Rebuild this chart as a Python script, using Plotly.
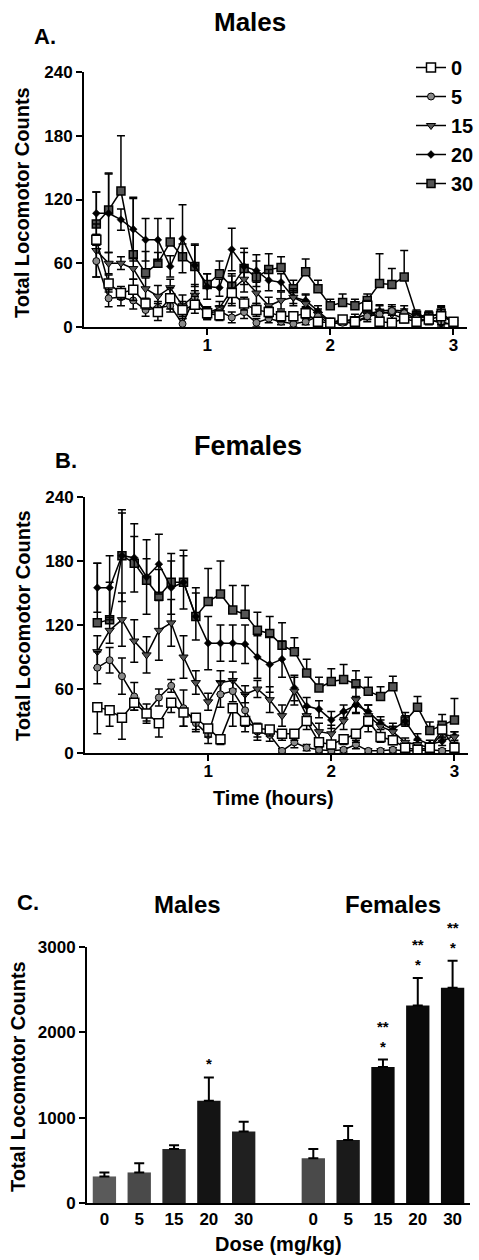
import plotly.graph_objects as go

# ---------------- data ----------------
time_h = [0.1, 0.2, 0.3, 0.4, 0.5, 0.6, 0.7, 0.8, 0.9, 1.0,
          1.1, 1.2, 1.3, 1.4, 1.5, 1.6, 1.7, 1.8, 1.9, 2.0,
          2.1, 2.2, 2.3, 2.4, 2.5, 2.6, 2.7, 2.8, 2.9, 3.0]
dose_names = ["0", "5", "15", "20", "30"]

# Panel A (males) means / SEM
male_0 = [82, 41, 32, 35, 22, 14, 27, 16, 21, 13, 11, 32, 22, 16, 14, 10, 10, 13, 5, 4, 7, 5, 20, 5, 4, 8, 5, 7, 10, 5]
male_5 = [62, 27, 28, 25, 16, 18, 20, 3, 28, 13, 15, 9, 14, 4, 8, 5, 3, 5, 10, 3, 4, 5, 10, 12, 15, 13, 8, 6, 5, 2]
male_15 = [72, 60, 60, 55, 36, 29, 37, 20, 30, 13, 18, 35, 45, 32, 20, 25, 28, 22, 12, 5, 5, 8, 12, 15, 12, 8, 10, 10, 12, 4]
male_20 = [107, 107, 101, 92, 82, 82, 57, 83, 58, 38, 37, 73, 57, 53, 44, 42, 28, 25, 15, 5, 5, 3, 10, 15, 16, 15, 10, 8, 3, 3]
male_30 = [97, 110, 128, 68, 51, 60, 80, 66, 57, 40, 50, 38, 55, 47, 54, 56, 36, 52, 36, 20, 23, 20, 25, 41, 40, 47, 11, 10, 13, 5]
male_0_err = [5, 8, 6, 10, 5, 8, 10, 8, 8, 6, 5, 10, 6, 6, 5, 5, 4, 5, 3, 2, 2, 3, 5, 3, 3, 3, 3, 5, 8, 2]
male_5_err = [15, 8, 8, 8, 6, 6, 6, 5, 6, 5, 5, 5, 6, 4, 4, 3, 3, 3, 4, 2, 2, 2, 3, 4, 4, 4, 3, 3, 3, 2]
male_15_err = [25, 10, 6, 10, 10, 10, 8, 10, 10, 6, 6, 15, 12, 10, 8, 8, 8, 8, 5, 3, 3, 4, 5, 6, 5, 4, 4, 4, 8, 2]
male_20_err = [20, 37, 10, 30, 20, 20, 10, 32, 20, 12, 8, 20, 17, 15, 10, 8, 6, 6, 5, 3, 3, 3, 5, 5, 5, 5, 3, 3, 3, 2]
male_30_err = [30, 35, 52, 53, 20, 10, 22, 12, 20, 10, 12, 10, 15, 15, 15, 10, 8, 12, 8, 6, 8, 6, 6, 28, 15, 25, 5, 5, 6, 3]

# Panel B (females) means / SEM
female_0 = [43, 40, 33, 47, 37, 28, 47, 38, 33, 23, 13, 42, 30, 23, 22, 18, 18, 30, 10, 8, 13, 18, 30, 15, 12, 5, 3, 5, 22, 5]
female_5 = [80, 87, 72, 53, 38, 52, 63, 42, 28, 17, 55, 58, 40, 20, 17, 2, 10, 5, 3, 2, 3, 8, 2, 2, 3, 2, 2, 3, 2, 2]
female_15 = [95, 115, 125, 105, 92, 115, 122, 90, 66, 48, 66, 68, 55, 60, 50, 35, 58, 35, 20, 18, 30, 50, 35, 25, 20, 10, 8, 5, 18, 15]
female_20 = [155, 155, 185, 183, 165, 177, 155, 160, 128, 103, 103, 103, 102, 90, 83, 88, 61, 44, 41, 31, 39, 45, 39, 28, 22, 30, 13, 8, 11, 16]
female_30 = [122, 125, 185, 178, 162, 147, 160, 160, 128, 142, 149, 134, 130, 115, 112, 101, 95, 75, 61, 67, 69, 65, 58, 53, 62, 30, 43, 21, 26, 31]
female_0_err = [25, 15, 20, 7, 9, 13, 9, 13, 11, 8, 5, 17, 10, 8, 6, 6, 6, 8, 4, 4, 5, 8, 10, 5, 4, 3, 2, 3, 8, 3]
female_5_err = [15, 12, 17, 13, 8, 8, 6, 17, 8, 8, 12, 10, 15, 8, 6, 2, 5, 3, 2, 2, 2, 4, 2, 2, 2, 2, 2, 2, 2, 2]
female_15_err = [15, 12, 25, 20, 17, 28, 22, 20, 11, 8, 11, 8, 8, 8, 12, 10, 13, 8, 8, 8, 8, 12, 10, 6, 5, 4, 4, 4, 6, 5]
female_20_err = [23, 30, 43, 32, 35, 28, 25, 25, 22, 25, 17, 17, 18, 20, 26, 17, 12, 8, 8, 8, 6, 8, 6, 6, 6, 5, 5, 4, 4, 4]
female_30_err = [56, 35, 40, 25, 20, 25, 27, 30, 27, 31, 31, 23, 27, 17, 16, 21, 13, 13, 10, 12, 14, 12, 13, 9, 10, 8, 10, 8, 10, 20]

# Panel C totals
male_total = [311, 358, 634, 1198, 837]
male_total_err = [47, 109, 43, 273, 116]
female_total = [525, 739, 1595, 2315, 2521]
female_total_err = [109, 164, 86, 323, 319]
male_stars = ["", "", "", "*", ""]
female_stars = ["", "", "**<br>*", "**<br>*", "**<br>*"]

# ---------------- styling ----------------
FONT = "Liberation Sans"
W, H = 479, 1260

styles = {
    "0": dict(symbol="square", color="white", size=9, line=dict(color="black", width=1.5)),
    "5": dict(symbol="circle", color="#8a8a8a", size=7, line=dict(color="black", width=1)),
    "15": dict(symbol="triangle-down", color="#555", size=8, line=dict(color="black", width=1)),
    "20": dict(symbol="diamond", color="black", size=6, line=dict(color="black", width=0.5)),
    "30": dict(symbol="square", color="#555", size=8, line=dict(color="black", width=1.5)),
}

fig = go.Figure()

male_series = {"0": (male_0, male_0_err), "5": (male_5, male_5_err), "15": (male_15, male_15_err),
               "20": (male_20, male_20_err), "30": (male_30, male_30_err)}
female_series = {"0": (female_0, female_0_err), "5": (female_5, female_5_err), "15": (female_15, female_15_err),
                 "20": (female_20, female_20_err), "30": (female_30, female_30_err)}

draw_order = ["30", "20", "15", "5", "0"]


def add_panel(series, xa, ya, legend, lower_for_zero):
    for name in draw_order:
        vals, err = series[name]
        zeros = [0] * len(err)
        plus, minus = err, err
        if name == "30":
            minus = zeros
        if name == "0" and lower_for_zero:
            plus = zeros
        fig.add_trace(go.Scatter(
            x=time_h, y=vals, mode="lines+markers", name="<b>" + name + "</b>",
            legendrank=dose_names.index(name) + 1,
            showlegend=legend,
            xaxis=xa, yaxis=ya, cliponaxis=False,
            line=dict(color="black", width=1.5),
            marker=styles[name],
            error_y=dict(type="data", array=plus, arrayminus=minus, symmetric=False,
                         color="black", thickness=1.5, width=4),
        ))


add_panel(male_series, "x", "y", True, False)
add_panel(female_series, "x2", "y2", False, True)

# Panel C bars
male_pos = [i + 1 for i in range(len(dose_names))]
female_pos = [i + 1 + len(dose_names) + 1 for i in range(len(dose_names))]
male_colors = ["#5a5a5a", "#4a4a4a", "#2a2a2a", "#141414", "#202020"]
female_colors = ["#4a4a4a", "#1a1a1a", "#0a0a0a", "#0a0a0a", "#0a0a0a"]
for pos, vals, errs, cols in [(male_pos, male_total, male_total_err, male_colors),
                              (female_pos, female_total, female_total_err, female_colors)]:
    fig.add_trace(go.Bar(
        x=pos, y=vals, width=0.67, xaxis="x3", yaxis="y3", showlegend=False,
        marker=dict(color=cols, line=dict(width=0)),
        error_y=dict(type="data", array=errs, arrayminus=[0] * len(errs), symmetric=False,
                     color="black", thickness=2, width=5),
    ))

axis_common = dict(showline=True, linecolor="black", linewidth=2, ticks="outside",
                   ticklen=6, tickwidth=2, tickcolor="black", showgrid=False, zeroline=False,
                   tickfont=dict(family=FONT, size=17, color="black", weight="bold"))
xaxis_time = dict(axis_common, ticklabelstandoff=-4)

fig.update_layout(
    width=W, height=H,
    margin=dict(l=0, r=0, t=0, b=0, autoexpand=False),
    paper_bgcolor="white", plot_bgcolor="white",
    font=dict(family=FONT, color="black"),
    showlegend=True,
    legend=dict(x=411 / W, y=1 - 48 / H, xanchor="left", yanchor="top",
                font=dict(family=FONT, size=20, color="black"),
                bgcolor="rgba(0,0,0,0)", itemwidth=30, traceorder="normal"),
    xaxis=dict(domain=[84 / W, 467 / W], range=[0, 3.11], tickvals=[1, 2, 3], anchor="y", **xaxis_time),
    yaxis=dict(domain=[1 - 327 / H, 1 - 72 / H], range=[0, 240], tickvals=[0, 60, 120, 180, 240],
               anchor="x", **axis_common),
    xaxis2=dict(domain=[85 / W, 468 / W], range=[0, 3.11], tickvals=[1, 2, 3], anchor="y2", **xaxis_time),
    yaxis2=dict(domain=[1 - 753 / H, 1 - 497 / H], range=[0, 240], tickvals=[0, 60, 120, 180, 240],
                anchor="x2", **axis_common),
    xaxis3=dict(domain=[87 / W, 470 / W], range=[0.5, 11.5], anchor="y3",
                tickvals=male_pos + female_pos, ticktext=dose_names + dose_names,
                **{k: v for k, v in axis_common.items() if k not in ("ticks", "ticklen")},
                ticks="", ticklen=0),
    yaxis3=dict(domain=[1 - 1203 / H, 1 - 947 / H], range=[0, 3000], tickvals=[0, 1000, 2000, 3000],
                anchor="x3", **axis_common),
)


def txt(text, xpx, ypx, size, xanchor="center", angle=0):
    fig.add_annotation(text=text, x=xpx / W, y=1 - ypx / H, xref="paper", yref="paper",
                       xanchor=xanchor, yanchor="middle", showarrow=False, textangle=angle,
                       font=dict(family=FONT, size=size, color="black", weight="bold"))


txt("A.", 32, 36, 22, xanchor="left")
txt("Males", 250, 22, 26)
txt("Total Locomotor Counts", 22, 203, 20, angle=-90)
txt("B.", 53, 460, 22, xanchor="left")
txt("Females", 248, 446, 27)
txt("Total Locomotor Counts", 23, 626, 20, angle=-90)
txt("Time (hours)", 273, 798, 20)
txt("C.", 15, 902, 22, xanchor="left")
txt("Males", 187, 904, 24)
txt("Females", 393, 904, 24)
txt("Total Locomotor Counts", 18, 1077, 20, angle=-90)
txt("Dose (mg/kg)", 278, 1244, 20)

for pos, vals, errs, stars in [(male_pos, male_total, male_total_err, male_stars),
                               (female_pos, female_total, female_total_err, female_stars)]:
    for p, v, e, s in zip(pos, vals, errs, stars):
        if s:
            fig.add_annotation(text=s, x=p, y=v + e, xref="x3", yref="y3", yanchor="bottom",
                               showarrow=False, yshift=3,
                               font=dict(family=FONT, size=15, color="black", weight="bold"))

fig.write_html("out.html", config={"displayModeBar": False},
               post_script="document.body.style.margin='0';document.body.style.padding='0';")
